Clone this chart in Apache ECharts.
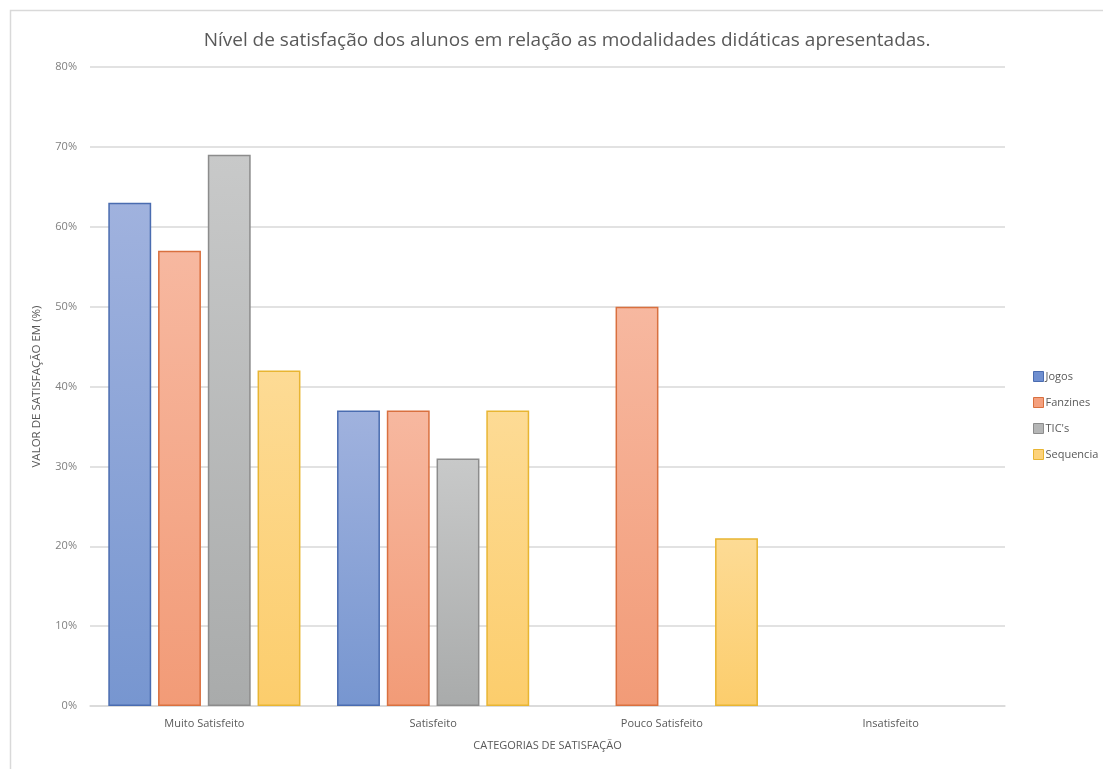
<!DOCTYPE html>
<html>
<head>
<meta charset="utf-8">
<script src="https://cdn.jsdelivr.net/npm/echarts@6/dist/echarts.min.js"></script>
<style>
html,body{margin:0;padding:0;background:#fff;}
#chart{width:1103px;height:769px;}
</style>
</head>
<body>
<div id="chart"></div>
<script>
var categories = ['Muito Satisfeito', 'Satisfeito', 'Pouco Satisfeito', 'Insatisfeito'];
var jogos = [63, 37, 0, 0];
var fanzines = [57, 37, 50, 0];
var tics = [69, 31, 0, 0];
var sequencia = [42, 37, 21, 0];
var yTicks = [0, 10, 20, 30, 40, 50, 60, 70, 80];

var chart = echarts.init(document.getElementById('chart'));
function grad(top, bottom) {
  return new echarts.graphic.LinearGradient(0, 0, 0, 1, [
    {offset: 0, color: top}, {offset: 1, color: bottom}
  ]);
}
function mk(name, vals, top, bottom, border) {
  return {
    name: name, type: 'bar', data: vals.map(function(v){ return v === 0 ? '-' : v; }),
    barGap: '16%', barCategoryGap: '16%',
    itemStyle: {color: grad(top, bottom), borderColor: border, borderWidth: 1.5},
    emphasis: {disabled: true}
  };
}
var font = '"Open Sans", "Noto Sans", sans-serif';
chart.setOption({
  animation: false,
  title: {
    text: 'Nível de satisfação dos alunos em relação as modalidades didáticas apresentadas.',
    left: 562, top: 26, textAlign: 'center',
    textStyle: {fontFamily: font, fontSize: 19, fontWeight: 'normal', color: '#595959'}
  },
  graphic: [{
    type: 'rect', shape: {x: 10.5, y: 10.5, width: 1200, height: 800},
    style: {fill: 'none', stroke: '#d9d9d9', lineWidth: 1.5}, silent: true
  }],
  legend: {
    orient: 'vertical', left: 1028, top: 366, itemGap: 15,
    itemWidth: 10, itemHeight: 10, icon: 'rect',
    textStyle: {fontFamily: font, fontSize: 11, color: '#595959', padding: [0,0,0,-3]},
    data: [
      {name: 'Jogos', itemStyle: {color: '#6f8fd0', borderColor: '#4a6cb0', borderWidth: 1}},
      {name: 'Fanzines', itemStyle: {color: '#f4a07e', borderColor: '#d9703f', borderWidth: 1}},
      {name: "TIC's", itemStyle: {color: '#b5b6b6', borderColor: '#8c8c8c', borderWidth: 1}},
      {name: 'Sequencia', itemStyle: {color: '#fdd27a', borderColor: '#e8b532', borderWidth: 1}}
    ]
  },
  grid: {left: 90, right: 98, top: 67, bottom: 63, containLabel: false},
  xAxis: {
    type: 'category', data: categories,
    name: 'CATEGORIAS DE SATISFAÇÃO', nameLocation: 'middle', nameGap: 34,
    nameTextStyle: {fontFamily: font, fontSize: 11, color: '#595959'},
    axisLine: {lineStyle: {color: '#d9d9d9', width: 1.5}},
    axisTick: {show: false},
    axisLabel: {fontFamily: font, fontSize: 11, color: '#595959', margin: 12}
  },
  yAxis: {
    type: 'value', min: 0, max: 80, interval: 10,
    name: 'VALOR DE SATISFAÇÃO EM (%)', nameLocation: 'middle', nameGap: 47,
    nameTextStyle: {fontFamily: font, fontSize: 11.5, color: '#595959'},
    axisLine: {show: false}, axisTick: {show: false},
    splitLine: {lineStyle: {color: '#d9d9d9', width: 1.5}},
    axisLabel: {fontFamily: font, fontSize: 11, color: '#808080', margin: 13,
      formatter: function(v){ return yTicks.indexOf(v) >= 0 ? v + '%' : ''; }}
  },
  series: [
    mk('Jogos', jogos, '#a0b2de', '#7796d0', '#4a6cb0'),
    mk('Fanzines', fanzines, '#f7b8a0', '#f29b77', '#d9703f'),
    mk("TIC's", tics, '#c8c9c9', '#a9abab', '#8c8c8c'),
    mk('Sequencia', sequencia, '#fddb95', '#fccd6c', '#e8b532')
  ]
});
</script>
</body>
</html>
